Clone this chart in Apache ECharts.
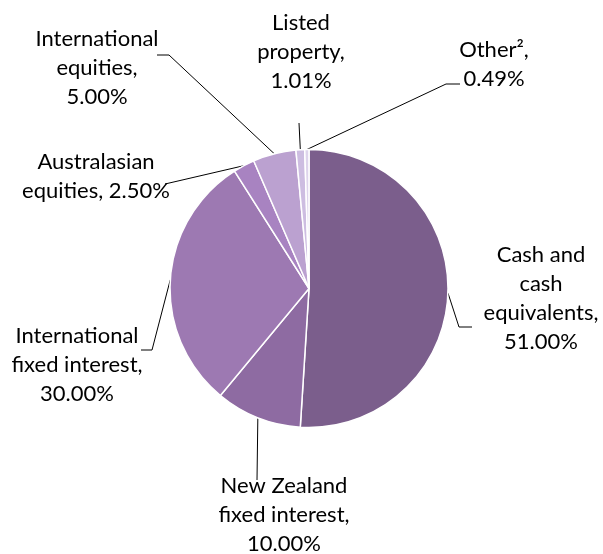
<!DOCTYPE html>
<html>
<head>
<meta charset="utf-8">
<script src="https://cdn.jsdelivr.net/npm/echarts@6/dist/echarts.min.js"></script>
<style>
  html, body { margin: 0; padding: 0; background: #fff; }
  #chart { width: 603px; height: 554px; }
</style>
</head>
<body>
<div id="chart"></div>
<script>
// asset allocation, clockwise from 12 o'clock
var names = [
  'Cash and\ncash\nequivalents',
  'New Zealand\nfixed interest',
  'International\nfixed interest',
  'Australasian\nequities',
  'International\nequities',
  'Listed\nproperty',
  'Other\u00b2'
];
var values = [51.00, 10.00, 30.00, 2.50, 5.00, 1.01, 0.49];
var colors = ['#7b5e8c', '#8e6ba2', '#9d79b2', '#a883c1', '#bba1d0', '#cdbde1', '#ded4ec'];

// label block centres and leader elbows (page pixels)
var labelPos = [
  [541, 298], [284, 515], [77, 365], [96, 176], [97, 68], [301, 52], [494, 64]
];
var leaderBends = [
  [[459, 327], [472, 327]],
  [[257, 480]],
  [[152, 350], [141, 350]],
  [[165, 184]],
  [[169, 55], [157, 55]],
  [[299, 123]],
  [[446, 84], [460, 84]]
];

// label text per slice, Australasian goes on two lines differently
function labelText(i) {
  var pct = values[i].toFixed(2) + '%';
  if (i === 3) return 'Australasian\nequities, ' + pct;
  return names[i] + ',\n' + pct;
}

var chart = echarts.init(document.getElementById('chart'));

var option = {
  backgroundColor: '#fff',
  animation: false,
  series: [{
    type: 'pie',
    center: [309, 288.5],
    radius: 139,
    startAngle: 90,
    clockwise: true,
    avoidLabelOverlap: false,
    data: values.map(function (v, i) {
      return { name: names[i], value: v, itemStyle: { color: colors[i] } };
    }),
    itemStyle: { borderColor: '#fff', borderWidth: 1.5 },
    label: {
      show: true,
      position: 'outside',
      formatter: function (p) { return labelText(p.dataIndex); },
      fontFamily: 'Lato',
      fontSize: 22,
      lineHeight: 29,
      color: '#000',
      align: 'center'
    },
    labelLine: {
      show: true,
      length: 10,
      length2: 10,
      lineStyle: { color: '#000', width: 1 }
    },
    labelLayout: function (p) {
      var i = p.dataIndex;
      var pts = [];
      if (p.labelLinePoints && p.labelLinePoints[0]) {
        pts.push(p.labelLinePoints[0].slice());
      }
      leaderBends[i].forEach(function (b) { pts.push(b.slice()); });
      if (pts.length === 2) pts.push(pts[1].slice());
      return {
        x: labelPos[i][0],
        y: labelPos[i][1],
        align: 'center',
        verticalAlign: 'middle',
        labelLinePoints: pts
      };
    },
    emphasis: { disabled: true }
  }]
};

chart.setOption(option);
</script>
</body>
</html>
